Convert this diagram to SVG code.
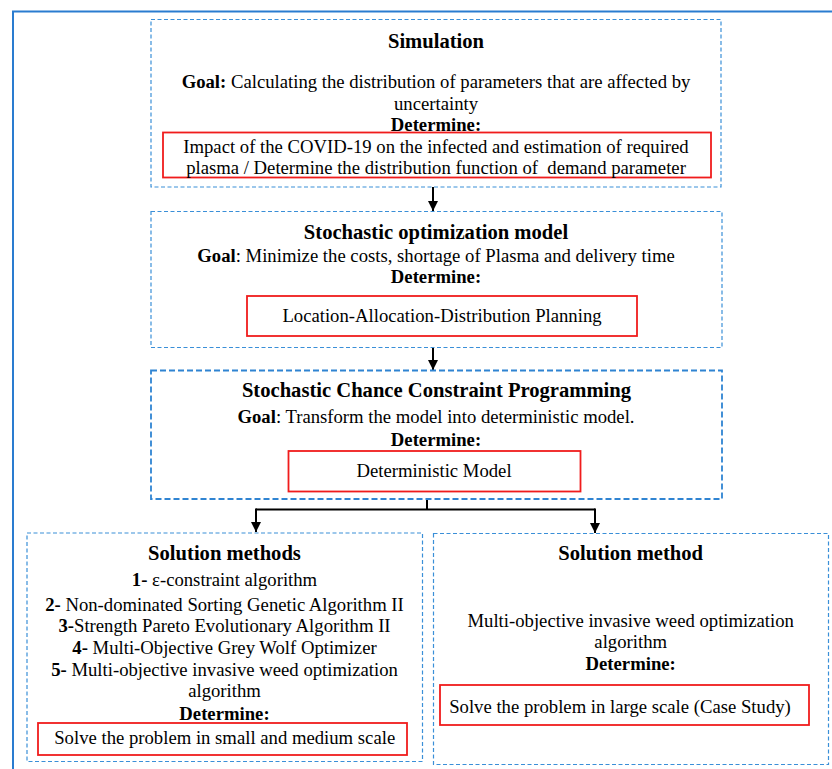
<svg xmlns="http://www.w3.org/2000/svg" width="832" height="769" viewBox="0 0 832 769">
  <defs>
    <marker id="arrow" viewBox="0 0 10 10" refX="10" refY="5" markerWidth="10" markerHeight="10" markerUnits="userSpaceOnUse" orient="auto">
      <path d="M0,0 L10,5 L0,10 Z" fill="#000"/>
    </marker>
    <style>
      .frame { fill: none; stroke: #2a7cd0; stroke-width: 2; }
      .box { fill: #fff; stroke: #3a8fd8; stroke-width: 1.2; stroke-dasharray: 4 2.5; }
      .box-strong { fill: #fff; stroke: #2f84d2; stroke-width: 1.8; stroke-dasharray: 6 3; }
      .hl { fill: #fff; stroke: #f01c1c; stroke-width: 1.8; }
      .conn { fill: none; stroke: #000; stroke-width: 2; }
      text { font-family: "Liberation Serif", "Times New Roman", serif; fill: #000; text-anchor: middle; }
      .t { font-size: 20.6px; font-weight: bold; }
      .b { font-size: 18.7px; }
      .bold { font-weight: bold; }
    </style>
  </defs>

  <rect width="832" height="769" fill="#fff"/>
  <!-- page frame -->
  <rect class="frame" x="13" y="11.5" width="840" height="800"/>

  <!-- connectors -->
  <g id="connectors">
    <line class="conn" x1="433" y1="187" x2="433" y2="211" marker-end="url(#arrow)"/>
    <line class="conn" x1="433" y1="348" x2="433" y2="370" marker-end="url(#arrow)"/>
    <polyline class="conn" points="427,499 427,509.5"/>
    <polyline class="conn" points="256,509.5 595,509.5"/>
    <line class="conn" x1="256" y1="508.5" x2="256" y2="532" marker-end="url(#arrow)"/>
    <line class="conn" x1="595" y1="508.5" x2="595" y2="533" marker-end="url(#arrow)"/>
  </g>

  <!-- simulation stage -->
  <g id="simulation">
    <rect class="box" x="151" y="19.5" width="570" height="167.5"/>
    <text class="t" x="436" y="47.5">Simulation</text>
    <text class="b" x="436" y="88"><tspan class="bold">Goal:</tspan> Calculating the distribution of parameters that are affected by</text>
    <text class="b" x="436" y="109.5">uncertainty</text>
    <text class="b bold" x="436" y="131">Determine:</text>
    <rect class="hl" x="163" y="132.5" width="548" height="45"/>
    <text class="b" x="436" y="153">Impact of the COVID-19 on the infected and estimation of required</text>
    <text class="b" x="436" y="174" xml:space="preserve">plasma / Determine the distribution function of  demand parameter</text>
  </g>

  <!-- stochastic optimization model -->
  <g id="optimization-model">
    <rect class="box" x="151" y="211.5" width="571" height="136"/>
    <text class="t" x="436" y="238.5">Stochastic optimization model</text>
    <text class="b" x="436" y="261.5"><tspan class="bold">Goal</tspan>: Minimize the costs, shortage of Plasma and delivery time</text>
    <text class="b bold" x="436" y="283">Determine:</text>
    <rect class="hl" x="247" y="296" width="390" height="40"/>
    <text class="b" x="442" y="321.5">Location-Allocation-Distribution Planning</text>
  </g>

  <!-- chance constraint programming -->
  <g id="chance-constraint">
    <rect class="box-strong" x="151" y="370.5" width="571" height="128.5"/>
    <text class="t" x="436.5" y="397">Stochastic Chance Constraint Programming</text>
    <text class="b" x="436" y="423"><tspan class="bold">Goal</tspan>: Transform the model into deterministic model.</text>
    <text class="b bold" x="436" y="445.5">Determine:</text>
    <rect class="hl" x="288.5" y="451" width="292" height="40.5"/>
    <text class="b" x="434" y="477">Deterministic Model</text>
  </g>

  <!-- solution methods (small and medium scale) -->
  <g id="solution-methods">
    <rect class="box" x="27" y="533" width="395.5" height="228.5"/>
    <text class="t" x="224.5" y="560">Solution methods</text>
    <text class="b" x="224.5" y="585.5"><tspan class="bold">1-</tspan> ε-constraint algorithm</text>
    <text class="b" x="224.5" y="610.5"><tspan class="bold">2-</tspan> Non-dominated Sorting Genetic Algorithm II</text>
    <text class="b" x="224.5" y="632"><tspan class="bold">3-</tspan>Strength Pareto Evolutionary Algorithm II</text>
    <text class="b" x="224.5" y="654"><tspan class="bold">4-</tspan> Multi-Objective Grey Wolf Optimizer</text>
    <text class="b" x="224.5" y="675.5"><tspan class="bold">5-</tspan> Multi-objective invasive weed optimization</text>
    <text class="b" x="224.5" y="697">algorithm</text>
    <text class="b bold" x="224.5" y="719.5">Determine:</text>
    <rect class="hl" x="38" y="723" width="369" height="32"/>
    <text class="b" x="224.7" y="743.5">Solve the problem in small and medium scale</text>
  </g>

  <!-- solution method (large scale) -->
  <g id="solution-method">
    <rect class="box" x="433.5" y="533.5" width="395" height="231"/>
    <text class="t" x="630.7" y="560">Solution method</text>
    <text class="b" x="630.7" y="626.5">Multi-objective invasive weed optimization</text>
    <text class="b" x="630.7" y="648">algorithm</text>
    <text class="b bold" x="630.7" y="670">Determine:</text>
    <rect class="hl" x="440" y="685" width="369" height="40"/>
    <text class="b" x="620" y="713">Solve the problem in large scale (Case Study)</text>
  </g>
</svg>
